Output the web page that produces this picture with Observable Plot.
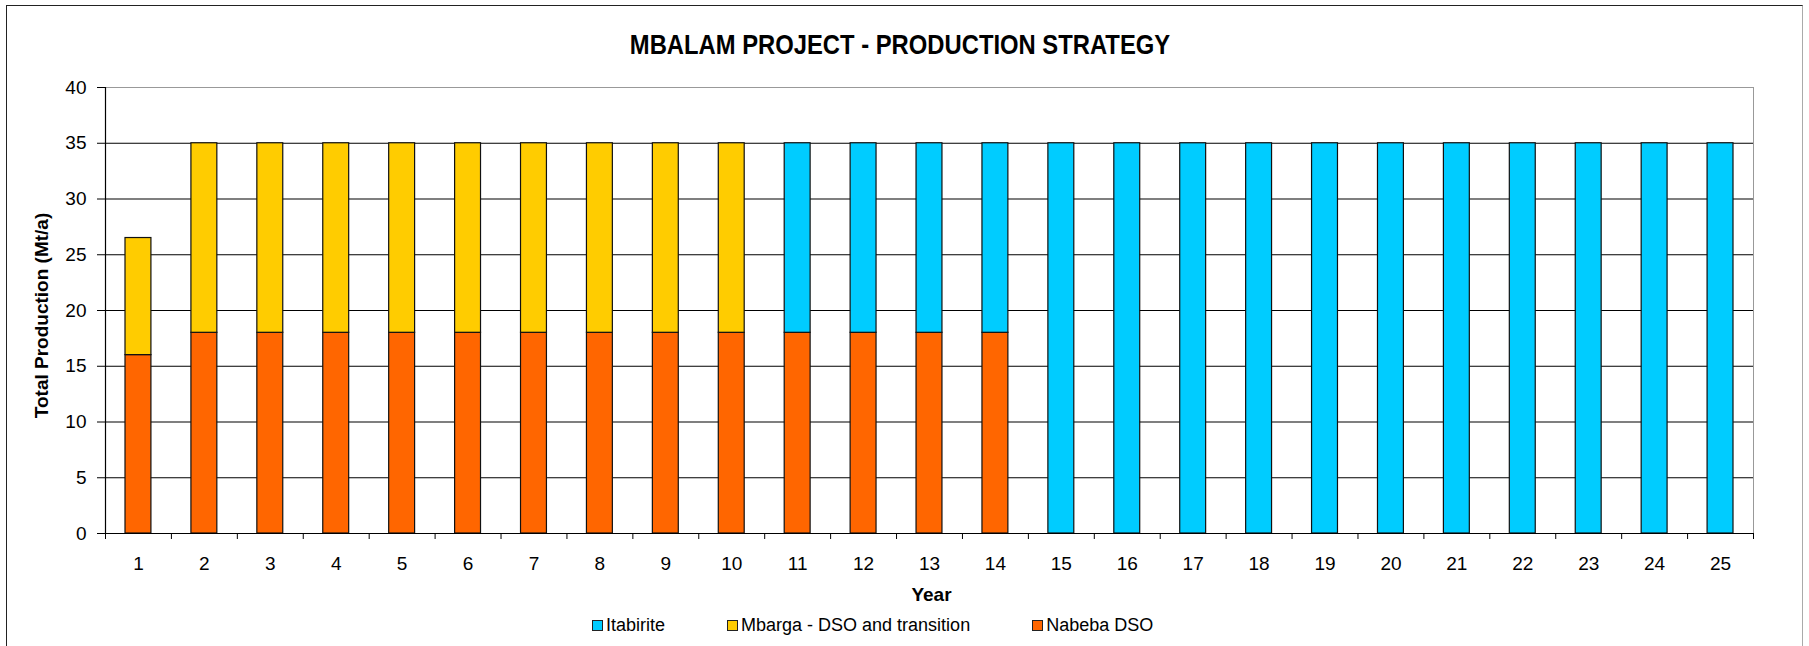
<!DOCTYPE html>
<html>
<head>
<meta charset="utf-8">
<script src="https://cdn.jsdelivr.net/npm/d3@7"></script>
<script src="https://cdn.jsdelivr.net/npm/@observablehq/plot@0.6"></script>
<style>
  html, body { margin: 0; padding: 0; background: #fff; }
  #wrap { position: relative; width: 1809px; height: 646px; overflow: hidden; background: #fff; font-family: "Liberation Sans", Arial, sans-serif; }
  #border { position: absolute; left: 6px; top: 5px; width: 1797px; height: 645px; box-sizing: border-box;
            border-top: 1.5px solid #222; border-left: 1.5px solid #222; border-right: 1px solid #aaa; pointer-events: none; }
  #title { height: 70px; position: relative; }
  #title span { position: absolute; left: 0; width: 1800px; top: 31px; text-align: center; line-height: 28px;
                font-family: "Liberation Sans", Arial, sans-serif; font-weight: bold; font-size: 28px; color: #000;
                transform: scaleX(0.85); transform-origin: 50% 50%; }
  #chart svg { display: block; }
  #legend { height: 30px; display: flex; align-items: center; padding-left: 592px; gap: 62px; font-size: 18px; color: #000; }
  .item { display: flex; align-items: center; }
  .sw { width: 11px; height: 11px; box-sizing: border-box; border: 1.5px solid #222; margin-right: 3px; }
</style>
</head>
<body>
<div id="wrap">
  <div id="title"><span>MBALAM PROJECT - PRODUCTION STRATEGY</span></div>
  <div id="chart"></div>
  <div id="legend"></div>
  <div id="border"></div>
</div>
<script>
const years = [1,2,3,4,5,6,7,8,9,10,11,12,13,14,15,16,17,18,19,20,21,22,23,24,25];
const nabeba    = [16,18,18,18,18,18,18,18,18,18,18,18,18,18,0,0,0,0,0,0,0,0,0,0,0];
const mbarga    = [10.5,17,17,17,17,17,17,17,17,17,0,0,0,0,0,0,0,0,0,0,0,0,0,0,0];
const itabirite = [0,0,0,0,0,0,0,0,0,0,17,17,17,17,35,35,35,35,35,35,35,35,35,35,35];
const seriesNames = ["Itabirite", "Mbarga - DSO and transition", "Nabeba DSO"];
const seriesColors = ["#00CCFF", "#FFCC00", "#FF6600"];
const stackOrder = ["Nabeba DSO", "Mbarga - DSO and transition", "Itabirite"];
const yTicks = [0,5,10,15,20,25,30,35,40];

const seriesValues = {"Itabirite": itabirite, "Mbarga - DSO and transition": mbarga, "Nabeba DSO": nabeba};
const rows = [];
for (const s of stackOrder) {
  years.forEach((yr, i) => {
    const v = seriesValues[s][i];
    if (v > 0) rows.push({year: yr, series: s, value: v});
  });
}
const boundaries = [years[0] - 0.5, ...years.map(y => y + 0.5)];

const plot = Plot.plot({
  width: 1809,
  height: 540,
  marginTop: 17,
  marginBottom: 77,
  marginLeft: 105,
  marginRight: 56,
  style: {fontFamily: "'Liberation Sans', Arial, sans-serif", fontSize: "19px", color: "#000", background: "transparent"},
  x: {domain: [boundaries[0], boundaries[boundaries.length - 1]]},
  y: {domain: [0, 40]},
  color: {domain: seriesNames, range: seriesColors},
  marks: [
    Plot.ruleY(yTicks.slice(0, -1), {stroke: "#000", strokeWidth: 1.2}),
    Plot.ruleY([yTicks[yTicks.length - 1]], {stroke: "#999", strokeWidth: 1}),
    Plot.ruleX([boundaries[boundaries.length - 1]], {stroke: "#999", strokeWidth: 1}),
    Plot.rectY(rows, {
      x1: d => d.year - 0.5,
      x2: d => d.year + 0.5,
      y: "value",
      fill: "series",
      order: stackOrder,
      insetLeft: 20,
      insetRight: 20,
      stroke: "#111",
      strokeWidth: 1.2
    }),
    Plot.ruleX([boundaries[0]], {stroke: "#000", strokeWidth: 1.2}),
    Plot.ruleY([0], {stroke: "#000", strokeWidth: 1.2}),
    Plot.axisY({ticks: yTicks, tickSize: 8, tickPadding: 11, label: null, fontSize: 19}),
    Plot.axisX({ticks: years, tickSize: 0, tickPadding: 23, tickFormat: d => String(d), label: null, fontSize: 19}),
    Plot.axisX({ticks: boundaries, tickSize: 6, tickFormat: () => "", label: null}),
    Plot.text(["Year"], {frameAnchor: "bottom", lineAnchor: "middle", textAnchor: "middle", dx: 2, dy: 61, fontWeight: "bold", fontSize: 19}),
    Plot.text(["Total Production (Mt/a)"], {frameAnchor: "left", lineAnchor: "middle", textAnchor: "middle", rotate: -90, dx: -64, dy: 5, fontWeight: "bold", fontSize: 19})
  ]
});
document.getElementById("chart").appendChild(plot);

const legend = document.getElementById("legend");
seriesNames.forEach((name, i) => {
  const item = document.createElement("div");
  item.className = "item";
  const sw = document.createElement("div");
  sw.className = "sw";
  sw.style.background = seriesColors[i];
  const label = document.createElement("span");
  label.textContent = name;
  item.appendChild(sw);
  item.appendChild(label);
  legend.appendChild(item);
});
</script>
</body>
</html>
